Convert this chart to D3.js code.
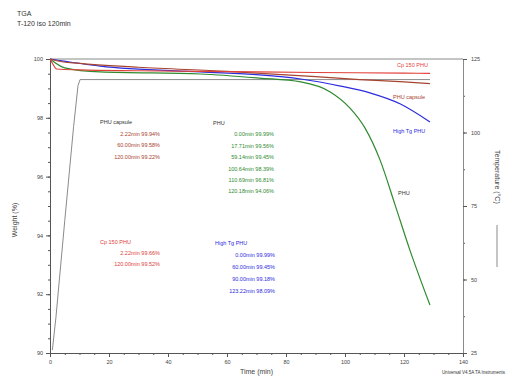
<!DOCTYPE html>
<html>
<head>
<meta charset="utf-8">
<script src="https://cdn.jsdelivr.net/npm/d3@7"></script>
<style>
  body { margin: 0; background: #fff; }
  svg { font-family: "Liberation Sans", Arial, sans-serif; }
</style>
</head>
<body>
<svg id="chart" width="507" height="380"></svg>
<script>
// time (min) / weight (%) pairs
const cp150Time = [0, 1, 2.22, 10, 30, 60, 90, 120, 128.8];
const cp150Weight = [100, 99.82, 99.66, 99.63, 99.6, 99.57, 99.54, 99.52, 99.51];

const capsuleTime = [0, 2.22, 10, 30, 60, 90, 105, 120, 128.8];
const capsuleWeight = [100, 99.94, 99.85, 99.72, 99.58, 99.4, 99.3, 99.22, 99.16];

const highTgTime = [0, 17, 51, 71, 85, 98.5, 108.7, 118.8, 128.8];
const highTgWeight = [100, 99.76, 99.56, 99.46, 99.32, 99.08, 98.84, 98.47, 97.86];

const phuTime = [0, 5, 17, 51, 71, 85, 95, 101.7, 106.8, 111.9, 117, 122, 128.8];
const phuWeight = [100, 99.7, 99.56, 99.49, 99.35, 99.22, 98.88, 98.33, 97.65, 96.56, 95.03, 93.5, 91.63];

const tempTime = [0.8, 2, 5, 8, 9.5, 10.2, 128.8];
const tempValue = [26, 37, 70, 102, 116, 118, 118];

const timeTicks = [0, 20, 40, 60, 80, 100, 120, 140];
const weightTicks = [90, 92, 94, 96, 98, 100];
const tempTicks = [25, 50, 75, 100, 125];

const capsuleNotes = ["PHU capsule", "2.22min 99.94%", "60.00min 99.58%", "120.00min 99.22%"];
const phuNotes = ["PHU", "0.00min 99.99%", "17.71min 99.56%", "59.14min 99.45%", "100.64min 98.39%", "110.69min 96.81%", "120.18min 94.06%"];
const cp150Notes = ["Cp 150 PHU", "2.22min 99.66%", "120.00min 99.52%"];
const highTgNotes = ["High Tg PHU", "0.00min 99.99%", "60.00min 99.45%", "90.00min 99.18%", "123.22min 98.09%"];

const RED = "#e2403a", BROWN = "#a8432e", BLUE = "#2b2be0", GREEN = "#2f8a2f", GREY = "#8a8a8a", AXIS = "#555";

const svg = d3.select("#chart");
const mLeft = 50, mRight = 463, mTop = 59, mBottom = 353;

const x = d3.scaleLinear().domain([0, 140]).range([mLeft, mRight]);
const yW = d3.scaleLinear().domain([90, 100]).range([mBottom, mTop]);
const yT = d3.scaleLinear().domain([25, 125]).range([mBottom, mTop]);

// title
svg.append("text").attr("x", 17).attr("y", 16).attr("font-size", 7).attr("fill", "#333").text("TGA");
svg.append("text").attr("x", 17).attr("y", 26).attr("font-size", 7).attr("fill", "#333").text("T-120 iso 120min");

// frame top line
svg.append("line").attr("x1", mLeft).attr("x2", mRight).attr("y1", mTop).attr("y2", mTop)
  .attr("stroke", GREY).attr("stroke-width", 1);

// axes
const minorX = d3.range(0, 141, 5);
const minorW = d3.range(90, 100.01, 0.5);
const minorT = d3.range(25, 126, 12.5);

function styleAxis(g) {
  g.select(".domain").attr("stroke", AXIS);
  g.selectAll(".tick line").attr("stroke", AXIS);
  g.selectAll(".tick text").attr("font-size", 5.5).attr("fill", "#444");
}

svg.append("g").attr("transform", `translate(0,${mBottom})`)
  .call(d3.axisBottom(x).tickValues(minorX).tickSize(2).tickFormat(""))
  .call(styleAxis);
svg.append("g").attr("transform", `translate(0,${mBottom})`)
  .call(d3.axisBottom(x).tickValues(timeTicks).tickSize(4).tickSizeOuter(0).tickPadding(3).tickFormat(d3.format("d")))
  .call(styleAxis);

svg.append("g").attr("transform", `translate(${mLeft},0)`)
  .call(d3.axisLeft(yW).tickValues(minorW).tickSize(2).tickFormat(""))
  .call(styleAxis);
svg.append("g").attr("transform", `translate(${mLeft},0)`)
  .call(d3.axisLeft(yW).tickValues(weightTicks).tickSize(4).tickSizeOuter(0).tickPadding(3).tickFormat(d3.format("d")))
  .call(styleAxis);

svg.append("g").attr("transform", `translate(${mRight},0)`)
  .call(d3.axisRight(yT).tickValues(minorT).tickSize(2).tickFormat(""))
  .call(g => { styleAxis(g); g.select(".domain").attr("stroke", GREY); });
svg.append("g").attr("transform", `translate(${mRight},0)`)
  .call(d3.axisRight(yT).tickValues(tempTicks).tickSize(4).tickSizeOuter(0).tickPadding(4).tickFormat(d3.format("d")))
  .call(g => { styleAxis(g); g.select(".domain").attr("stroke", GREY); });

// axis titles
svg.append("text").attr("transform", "translate(17,220) rotate(-90)")
  .attr("text-anchor", "middle").attr("font-size", 7).attr("fill", "#444").text("Weight (%)");
svg.append("text").attr("transform", "translate(495,150) rotate(90)")
  .attr("font-size", 7).attr("fill", "#444").text("Temperature (°C)");
svg.append("line").attr("x1", 497).attr("x2", 497).attr("y1", 225).attr("y2", 267)
  .attr("stroke", GREY).attr("stroke-width", 1);
svg.append("text").attr("x", (mLeft + mRight) / 2).attr("y", 374)
  .attr("text-anchor", "middle").attr("font-size", 7).attr("fill", "#444").text("Time (min)");
svg.append("text").attr("x", 505).attr("y", 374).attr("text-anchor", "end")
  .attr("font-size", 4.5).attr("fill", "#333").text("Universal V4.5A TA Instruments");

// curves
const lineT = d3.line().x(d => x(d[0])).y(d => yT(d[1]));
const lineW = d3.line().curve(d3.curveMonotoneX).x(d => x(d[0])).y(d => yW(d[1]));
const zip = (a, b) => a.map((v, i) => [v, b[i]]);

svg.append("path").datum(zip(tempTime, tempValue)).attr("d", lineT)
  .attr("fill", "none").attr("stroke", GREY).attr("stroke-width", 1);

const curves = [
  [phuTime, phuWeight, GREEN],
  [highTgTime, highTgWeight, BLUE],
  [capsuleTime, capsuleWeight, BROWN],
  [cp150Time, cp150Weight, RED],
];
curves.forEach(([t, w, c]) => {
  svg.append("path").datum(zip(t, w)).attr("d", lineW)
    .attr("fill", "none").attr("stroke", c).attr("stroke-width", 1.2);
});

// curve labels
const curveLabels = [
  ["Cp 150 PHU", 397, 67, RED],
  ["PHU capsule", 393, 99, BROWN],
  ["High Tg PHU", 393, 133, BLUE],
  ["PHU", 398, 195, "#333"],
];
curveLabels.forEach(([s, lx, ly, c]) => {
  svg.append("text").attr("x", lx).attr("y", ly).attr("font-size", 5.5).attr("fill", c).text(s);
});

// analysis notes
function notes(list, hx, rx, y0, dy, headColor, color) {
  list.forEach((s, i) => {
    svg.append("text")
      .attr("x", i === 0 ? hx : rx)
      .attr("y", y0 + i * dy)
      .attr("text-anchor", i === 0 ? "start" : "end")
      .attr("font-size", 5.5)
      .attr("fill", i === 0 ? headColor : color)
      .text(s);
  });
}
notes(capsuleNotes, 100, 160, 124, 11.5, "#333", BROWN);
notes(phuNotes, 213, 274, 125, 11.4, "#333", GREEN);
notes(cp150Notes, 100, 160, 244, 11, RED, RED);
notes(highTgNotes, 215, 275, 245, 12, BLUE, BLUE);
</script>
</body>
</html>
